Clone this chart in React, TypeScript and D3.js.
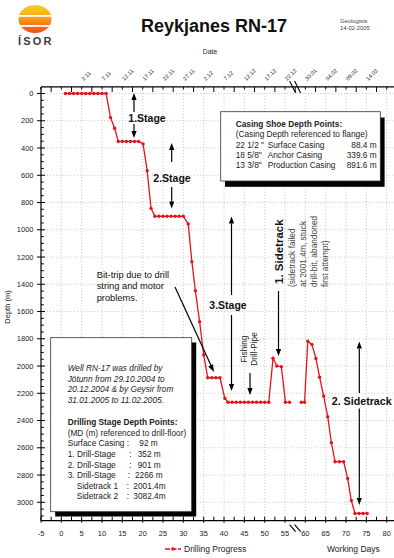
import React from 'react';
import * as d3 from 'd3';

const W = 394;
const H = 558;
const FONT = '"Liberation Sans", Arial, Helvetica, sans-serif';

// Drilling progress: working day vs. depth (m), two segments (gap over the break)
const DAYS_A = [1, 2, 3, 4, 5, 6, 7, 8, 9, 10, 11, 12.1, 13.1, 14, 15, 16, 17, 18, 19, 20.1, 21.1, 22.05, 23, 24, 25, 26, 27, 28, 29, 30, 31.2, 32.1, 32.95, 34, 35, 36, 37, 38, 39, 40.2, 41, 42, 43, 44, 45, 46, 47, 48, 49, 50, 51, 52.05, 53, 54.1, 55.1, 56.1];
const DEPTH_A = [0, 0, 0, 0, 0, 0, 0, 0, 0, 0, 0, 177, 255, 352, 352, 352, 352, 352, 352, 370, 566, 843, 901, 901, 901, 901, 901, 901, 901, 901, 958, 1234, 1447, 1675, 1919, 2086, 2086, 2086, 2086, 2237, 2266, 2266, 2266, 2266, 2266, 2266, 2266, 2266, 2266, 2266, 2266, 1943, 2000, 2005, 2266, 2266];
const DAYS_B = [59.0, 59.8, 60.6, 61.6, 62.6, 63.5, 64.5, 65.5, 66.4, 67.3, 68.4, 69.4, 70.4, 71.3, 72.2, 73.2, 74.2, 75.2];
const DEPTH_B = [2266, 2266, 1818, 1841, 1944, 2082, 2220, 2372, 2563, 2702, 2702, 2702, 2825, 2987, 3082, 3082, 3082, 3082];

const X_TICKS = [-5, 0, 5, 10, 15, 20, 25, 30, 35, 40, 45, 50, 55, 60, 65, 70, 75, 80];
const Y_TICKS = [0, 200, 400, 600, 800, 1000, 1200, 1400, 1600, 1800, 2000, 2200, 2400, 2600, 2800, 3000];
const DATE_DAYS = [5, 10, 15, 20, 25, 30, 35, 40, 45, 50, 55, 60, 65, 70, 75];
const DATE_LABELS = ['2.11', '7.11', '12.11', '17.11', '22.11', '27.11', '2.12', '7.12', '12.12', '17.12', '22.12', '30.01', '04.02', '09.02', '14.02'];

const CASING_SIZES = ['22 1/2 "', '18 5/8"', '13 3/8"'];
const CASING_NAMES = ['Surface Casing', 'Anchor Casing', 'Production Casing'];
const CASING_DEPTHS = ['88.4 m', '339.6 m', '891.6 m'];

const STAGE_LABELS = ['Surface Casing :', '1. Drill-Stage', '2. Drill-Stage', '3. Drill-Stage', 'Sidetrack 1', 'Sidetrack 2'];
const STAGE_VALUES = ['92 m', '352 m', '901 m', '2266 m', '2001.4m', '3082.4m'];

const RED = '#e3141b';

function Arrow({ x, y1, y2 }: { x: number; y1: number; y2: number }) {
  const dir = y2 > y1 ? 1 : -1;
  const hl = 7;
  const hw = 2.6;
  return (
    <g>
      <line x1={x} y1={y1} x2={x} y2={y2 - dir * hl} stroke="#000" strokeWidth={1.2} />
      <polygon points={`${x},${y2} ${x - hw},${y2 - dir * hl} ${x + hw},${y2 - dir * hl}`} fill="#000" />
    </g>
  );
}

function Logo() {
  return (
    <g>
      <defs>
        <linearGradient id="lg" x1="0" y1="0" x2="0" y2="1">
          <stop offset="0" stopColor="#f9d423" />
          <stop offset="0.45" stopColor="#f7a21b" />
          <stop offset="1" stopColor="#e9471a" />
        </linearGradient>
        <clipPath id="lc">
          <ellipse cx={35} cy={19} rx={16.5} ry={14} />
        </clipPath>
      </defs>
      <g clipPath="url(#lc)">
        <rect x={17} y={4} width={36} height={30} fill="url(#lg)" />
        <rect x={17} y={15} width={36} height={1.8} fill="#fff" />
        <rect x={17} y={25} width={36} height={1.8} fill="#fff" />
      </g>
      <text x={18} y={45} fontFamily={FONT} fontWeight="bold" fontSize={11} letterSpacing={2.2} fill="#3c3c3c">ÍSOR</text>
    </g>
  );
}

export default function App() {
  const x = d3.scaleLinear().domain([-5, 80]).range([41, 386.7]);
  const y = d3.scaleLinear().domain([0, 3000]).range([93.5, 502.3]);

  const left = x(-5);
  const top = y(-48);
  const bottom = y(3135);
  const right = W;

  const ptsA = DAYS_A.map((d, i) => [d, DEPTH_A[i]] as [number, number]);
  const ptsB = DAYS_B.map((d, i) => [d, DEPTH_B[i]] as [number, number]);
  const line = d3.line<[number, number]>().x((p) => x(p[0])).y((p) => y(p[1]));

  const minorY = d3.range(0, 3101, 50).filter((v) => v % 200 !== 0);
  const xSmall = d3.range(-5, 82.6, 2.5);
  const breakX = x(57.6);

  const txt = { fontFamily: FONT } as const;

  return (
    <svg width={W} height={H} style={{ position: 'absolute', left: 0, top: 0, background: '#fff' }}>
      <rect x={0} y={0} width={W} height={H} fill="#fff" />
      <Logo />
      <text x={214} y={31.5} textAnchor="middle" {...txt} fontWeight="bold" fontSize={18} fill="#111">Reykjanes RN-17</text>
      <text x={340} y={22.6} {...txt} fontSize={5.8} fill="#444">Geologists</text>
      <text x={340} y={30.2} {...txt} fontSize={5.8} fill="#444">14-02-2005</text>
      <text x={210} y={54} textAnchor="middle" {...txt} fontSize={6.8} fill="#222">Date</text>

      {/* grid */}
      <g stroke="#b8b8b8" strokeWidth={0.7} strokeDasharray="1.2,1.8">
        {X_TICKS.filter((d) => d > -5).map((d) => (
          <line key={'gx' + d} x1={x(d)} x2={x(d)} y1={top} y2={bottom} />
        ))}
        {Y_TICKS.map((v) => (
          <line key={'gy' + v} x1={left} x2={right} y1={y(v)} y2={y(v)} />
        ))}
      </g>

      {/* axes */}
      <g stroke="#000" strokeWidth={1.2}>
        <line x1={left} x2={left} y1={top} y2={bottom} />
        <line x1={left} x2={right} y1={top} y2={top} />
        <line x1={left} x2={right} y1={bottom} y2={bottom} />
      </g>
      <g stroke="#000" strokeWidth={1}>
        {Y_TICKS.map((v) => (
          <line key={'ty' + v} x1={left - 4} x2={left + 4} y1={y(v)} y2={y(v)} />
        ))}
        {minorY.map((v) => (
          <line key={'my' + v} x1={left} x2={left + 2.8} y1={y(v)} y2={y(v)} />
        ))}
        {xSmall.map((d, i) => (
          <line key={'tb' + i} x1={x(d)} x2={x(d)} y1={bottom - 4} y2={bottom + (i % 2 === 0 ? 2 : 0)} />
        ))}
        {xSmall.map((d, i) => (
          <line key={'tt' + i} x1={x(d)} x2={x(d)} y1={top} y2={top + (i % 2 === 0 ? 2.5 : 5)} />
        ))}
      </g>
      {/* axis break marks */}
      <g stroke="#000" strokeWidth={1.1}>
        <line x1={breakX - 6} y1={top - 6} x2={breakX} y2={top + 6} />
        <line x1={breakX - 1} y1={top - 6} x2={breakX + 5} y2={top + 6} />
        <line x1={breakX - 6} y1={bottom + 4} x2={breakX} y2={bottom + 11} />
        <line x1={breakX - 1} y1={bottom + 4} x2={breakX + 5} y2={bottom + 11} />
      </g>

      {/* tick labels */}
      {Y_TICKS.map((v) => (
        <text key={'ly' + v} x={33.5} y={y(v) + 2.7} textAnchor="end" {...txt} fontSize={7.5} fill="#222">{v}</text>
      ))}
      {X_TICKS.map((d) => (
        <text key={'lx' + d} x={x(d)} y={536} textAnchor="middle" {...txt} fontSize={7.5} fill="#222">{d}</text>
      ))}
      {DATE_DAYS.map((d, i) => (
        <text key={'ld' + d} transform={`translate(${x(d) + 2},${81}) rotate(-45)`} {...txt} fontSize={5.6} fill="#222">{DATE_LABELS[i]}</text>
      ))}
      <text transform={`translate(9.5,307) rotate(-90)`} textAnchor="middle" {...txt} fontSize={7.5} fill="#222">Depth (m)</text>

      {/* data */}
      {[ptsA, ptsB].map((pts, k) => (
        <g key={'s' + k}>
          <path d={line(pts) || ''} fill="none" stroke={RED} strokeWidth={1.3} />
          {pts.map((p, i) => (
            <circle key={i} cx={x(p[0])} cy={y(p[1])} r={1.7} fill={RED} />
          ))}
        </g>
      ))}

      {/* stage annotations */}
      <Arrow x={134} y1={112} y2={93} />
      <Arrow x={134} y1={124} y2={138} />
      <text x={128.3} y={122} {...txt} fontWeight="bold" fontSize={10.5} fill="#111">1.Stage</text>

      <Arrow x={171.7} y1={162} y2={143} />
      <Arrow x={171.7} y1={187} y2={208.5} />
      <text x={153.3} y={181.5} {...txt} fontWeight="bold" fontSize={10.5} fill="#111">2.Stage</text>

      <Arrow x={231.5} y1={295} y2={216.5} />
      <Arrow x={231.5} y1={315} y2={391} />
      <text x={209.3} y={308.7} {...txt} fontWeight="bold" fontSize={10.5} fill="#111">3.Stage</text>

      <text transform="translate(246.5,349) rotate(-90)" textAnchor="middle" {...txt} fontSize={8.3} fill="#222">Fishing</text>
      <text transform="translate(256.5,349) rotate(-90)" textAnchor="middle" {...txt} fontSize={8.3} fill="#222">Drill-Pipe</text>
      <Arrow x={250} y1={373} y2={395} />

      <text transform="translate(283,284) rotate(-90)" {...txt} fontWeight="bold" fontSize={11.5} fill="#111">1. Sidetrack</text>
      <Arrow x={278.5} y1={291} y2={356} />
      {['(sidetrack failed', 'at 2001.4m, stuck', 'drill-bit, abandoned', 'first attempt)'].map((s, i) => (
        <text key={'st' + i} transform={`translate(${294.5 + i * 11.3},287) rotate(-90)`} {...txt} fontSize={8.4} fill="#444">{s}</text>
      ))}

      <Arrow x={359.3} y1={393} y2={341.5} />
      <Arrow x={359.3} y1={408.5} y2={505} />
      <text x={331.7} y={404.8} {...txt} fontWeight="bold" fontSize={10.7} fill="#111">2. Sidetrack</text>

      {['Bit-trip due to drill', 'string and motor', 'problems.'].map((s, i) => (
        <text key={'bt' + i} x={96.7} y={277.6 + i * 11.7} {...txt} fontSize={9.3} fill="#111">{s}</text>
      ))}
      <g>
        <line x1={175} y1={287} x2={211} y2={365.5} stroke="#000" strokeWidth={1.2} />
        <polygon points="214,372 208.2,366.4 213.0,364.2" fill="#000" />
      </g>

      {/* casing box */}
      <rect x={225} y={117.5} width={159.6} height={69.3} fill="#000" />
      <rect x={220.7} y={111.7} width={159.6} height={69.3} fill="#fff" stroke="#333" strokeWidth={0.8} />
      <text x={235.7} y={127} {...txt} fontWeight="bold" fontSize={8.3} fill="#222">Casing Shoe Depth Points:</text>
      <text x={235.7} y={137.3} {...txt} fontSize={8.3} fill="#222">(Casing Depth referenced to flange)</text>
      {CASING_SIZES.map((s, i) => (
        <g key={'cs' + i}>
          <text x={235.7} y={147.6 + i * 10.3} {...txt} fontSize={8.3} fill="#222">{s}</text>
          <text x={267.7} y={147.6 + i * 10.3} {...txt} fontSize={8.3} fill="#222">{CASING_NAMES[i]}</text>
          <text x={376.7} y={147.6 + i * 10.3} textAnchor="end" {...txt} fontSize={8.3} fill="#222">{CASING_DEPTHS[i]}</text>
        </g>
      ))}

      {/* well box */}
      <rect x={55.2} y={342.5} width={141} height={174} fill="#000" />
      <rect x={50.7} y={337.7} width={141} height={174} fill="#fff" stroke="#333" strokeWidth={0.8} />
      {['Well RN-17 was drilled by', 'Jötunn from 29.10.2004 to', '20.12.2004 & by Geysir from', '31.01.2005 to 11.02.2005.'].map((s, i) => (
        <text key={'w' + i} x={67.7} y={371.2 + i * 10.6} {...txt} fontStyle="italic" fontSize={8.3} fill="#222">{s}</text>
      ))}
      <text x={67.7} y={425} {...txt} fontWeight="bold" fontSize={8.3} fill="#222">Drilling Stage Depth Points:</text>
      <text x={67.7} y={435.6} {...txt} fontSize={8.3} fill="#222">(MD (m) referenced to drill-floor)</text>
      {STAGE_LABELS.map((s, i) => {
        const yy = 446.2 + i * 10.65;
        const indent = i >= 4 ? 76.7 : 67.7;
        const colonX = i === 0 ? null : i >= 4 ? 126.7 : i === 3 ? 127.7 : 129.3;
        const valX = [139.3, 137.7, 137.7, 135, 133.3, 133.3][i];
        return (
          <g key={'sl' + i}>
            <text x={indent} y={yy} {...txt} fontSize={8.3} fill="#222">{s}</text>
            {colonX !== null && <text x={colonX} y={yy} {...txt} fontSize={8.3} fill="#222">:</text>}
            <text x={valX} y={yy} {...txt} fontSize={8.3} fill="#222">{STAGE_VALUES[i]}</text>
          </g>
        );
      })}

      {/* legend */}
      <line x1={165} x2={181} y1={549} y2={549} stroke={RED} strokeWidth={1.3} strokeDasharray="5,1.5" />
      <circle cx={173} cy={549} r={1.8} fill={RED} />
      <text x={184} y={552} {...txt} fontSize={8.5} fill="#222">Drilling Progress</text>
      <text x={327} y={552} {...txt} fontSize={8.5} fill="#222">Working Days</text>
    </svg>
  );
}
